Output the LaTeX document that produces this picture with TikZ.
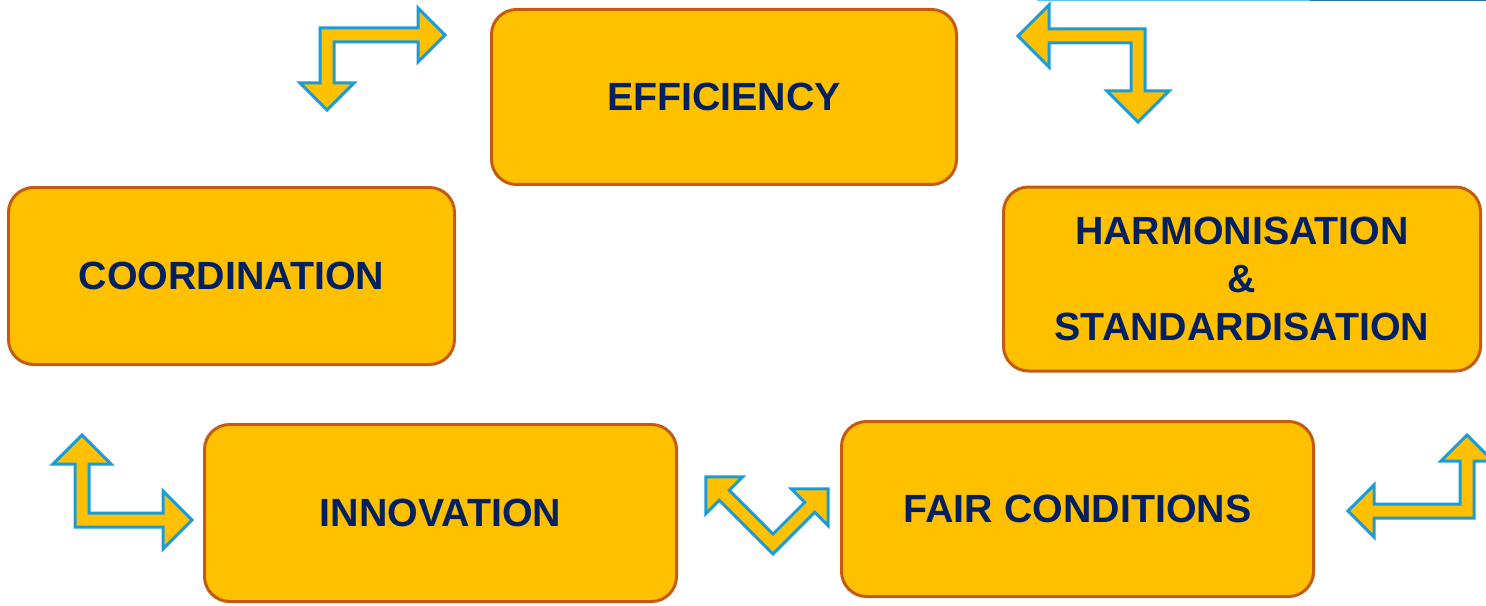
\documentclass[tikz,border=0pt]{standalone}
\usepackage{fontspec}
\setmainfont{Liberation Sans}

\definecolor{boxfill}{HTML}{FFC000}
\definecolor{boxedge}{HTML}{C55A11}
\definecolor{labeltext}{HTML}{002060}
\definecolor{arrowedge}{HTML}{1B9BD7}
\definecolor{rulelight}{HTML}{5BC8EE}
\definecolor{ruledark}{HTML}{2E6FA6}

\tikzset{
    topic/.style 2 args={draw=boxedge, fill=boxfill, line width=0.3mm,
        rounded corners=2.5mm, minimum width=#1, minimum height=#2,
        inner sep=0pt, align=center, text=labeltext,
        font=\fontsize{11.2}{13.7}\selectfont\bfseries},
    bent/.style={draw=arrowedge, fill=boxfill, line width=0.3mm, line join=miter}
}

\begin{document}
\begin{tikzpicture}[x=0.1mm, y=-0.1mm]

\useasboundingbox (0,0) rectangle (1486,606);

% Shaft half-width of the bent arrows
\def\shaftw{7}

% Macro to draw an L-shaped double arrow, corner at the local origin,
% one arm along +x (length #2), the other along +y (length #3), head size #4
% Usage: \bentarrow{transform}{arm1}{arm2}{head}
\newcommand{\bentarrow}[4]{
    \begin{scope}[#1]
        \draw[bent] (#2,0) -- (#2-#4,#4) -- (#2-#4,\shaftw) -- (\shaftw,\shaftw)
            -- (\shaftw,#3-#4) -- (#4,#3-#4) -- (0,#3) -- (-#4,#3-#4)
            -- (-\shaftw,#3-#4) -- (-\shaftw,-\shaftw) -- (#2-#4,-\shaftw)
            -- (#2-#4,-#4) -- cycle;
    \end{scope}
}

% --- thin rule along the top edge ---
\fill[rulelight] (1037,0) rectangle (1310,1.5);
\fill[ruledark] (1310,0) rectangle (1486,1.5);

% --- Topics ---
\node[topic={46.5mm}{17.5mm}] (eff) at (724,97) {EFFICIENCY};
\node[topic={44.6mm}{17.7mm}] (coord) at (231.5,276) {COORDINATION};
\node[topic={47.7mm}{18.4mm}] (harm) at (1242,279)
    {HARMONISATION\\\&\\STANDARDISATION};
\node[topic={47.2mm}{17.7mm}] (innov) at (440.5,513) {INNOVATION};
\node[topic={47.2mm}{17.5mm}] (fair) at (1077.5,509) {FAIR CONDITIONS};

% --- Bent arrows between the topics ---
\bentarrow{shift={(327,35)}}{118}{75}{27}
\bentarrow{shift={(1138,36)}, xscale=-1}{120}{86}{31}
\bentarrow{shift={(82,520)}, yscale=-1}{110}{85}{29}
\bentarrow{shift={(773,544)}, rotate=135}{95}{78}{26}
\bentarrow{shift={(1467,511)}, xscale=-1, yscale=-1}{119}{76}{26}

\end{tikzpicture}
\end{document}
